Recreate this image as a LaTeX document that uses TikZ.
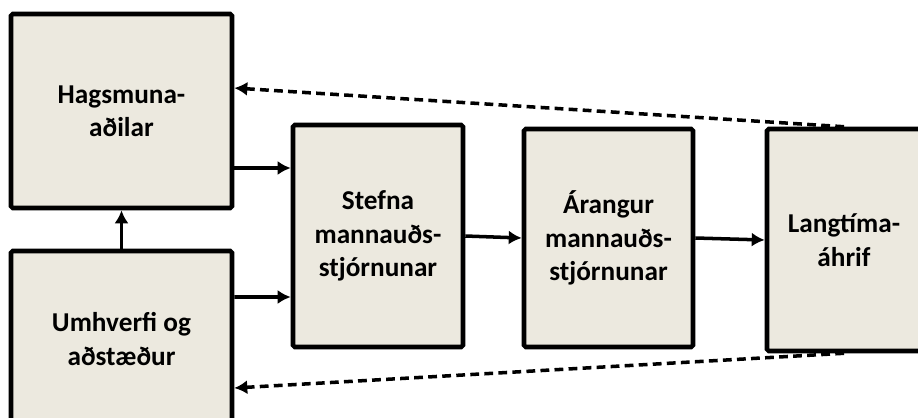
\documentclass[tikz,border=0pt]{standalone}
\usepackage{fontspec}
\setmainfont{Carlito}
\usetikzlibrary{arrows.meta,shapes}
\definecolor{boxfill}{RGB}{236,233,223}
\tikzstyle{block}=[rectangle,draw=black,fill=boxfill,line width=2.6pt,rounded corners=1pt,align=center,inner sep=0pt,font=\fontsize{15.5pt}{19pt}\selectfont\bfseries]
\tikzstyle{edge} = [draw,line width=2pt,-{Latex[length=2.6mm,width=2.8mm]}]
\tikzstyle{feedback} = [edge,dash pattern=on 5pt off 3pt]

\begin{document}
\begin{tikzpicture}
    \useasboundingbox (0,0) rectangle (18.36,-8.34);
    % Draw the five boxes
    \foreach \pos/\name/\w/\h/\txt in {{(2.43,-2.22)/hag/4.42/3.88/{Hagsmuna-\\aðilar}},
                                      {(2.43,-6.78)/env/4.42/3.52/{Umhverfi og\\aðstæður}},
                                      {(7.56,-4.72)/stef/3.40/4.44/{Stefna\\mannauðs-\\stjórnunar}},
                                      {(12.17,-4.76)/ar/3.38/4.36/{Árangur\\mannauðs-\\stjórnunar}},
                                      {(16.88,-4.80)/lang/3.08/4.44/{Langtíma-\\áhrif}}}
        \node[block, minimum width=\w cm, minimum height=\h cm] (\name) at \pos {\txt};
    % Solid arrows
    \path[edge] ([yshift=-1.14cm]hag.east) -- ([yshift=1.36cm]stef.west);
    \path[edge] ([yshift=0.84cm]env.east) -- ([yshift=-1.22cm]stef.west);
    \path[edge] (env.north) -- (hag.south);
    \path[edge] (stef.east) -- (ar.west);
    \path[edge] (ar.east) -- (lang.west);
    % Dashed feedback arrows
    \path[feedback] (lang.north) -- ([yshift=0.46cm]hag.east);
    \path[feedback] (lang.south) -- ([yshift=-0.98cm]env.east);
\end{tikzpicture}
\end{document}
